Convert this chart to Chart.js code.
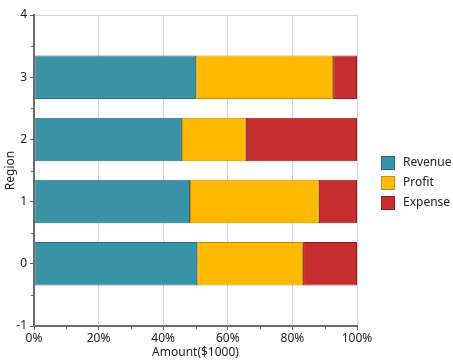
<!DOCTYPE html>
<html>
<head>
<meta charset="utf-8">
<script src="https://cdn.jsdelivr.net/npm/chart.js@4"></script>
<style>
  body { margin: 0; background: #fff; }
</style>
</head>
<body>
<canvas id="chart" width="453" height="364"></canvas>
<script>
// regions on a numeric axis, shares in percent of total
const regions = [0, 1, 2, 3];
const revenue = [50.5, 48.3, 45.8, 50.2];
const profit = [32.8, 39.9, 19.8, 42.4];
const expense = [16.7, 11.8, 34.4, 7.4];
const seriesNames = ['Revenue', 'Profit', 'Expense'];

const fillColors = ['rgb(57,146,166)', 'rgb(255,185,0)', 'rgb(198,45,47)'];
const edgeColors = ['rgb(42,108,122)', 'rgb(196,140,18)', 'rgb(140,32,34)'];
const font = { family: '"Noto Sans", "Open Sans", sans-serif', size: 12 };

const toPoints = (vals) => vals.map((v, i) => ({ x: v, y: regions[i] }));

// small ticks between the labelled ones
const minorTicks = {
  id: 'minorTicks',
  afterDatasetsDraw(chart) {
    const { ctx, scales: { x, y } } = chart;
    ctx.save();
    ctx.strokeStyle = '#666';
    ctx.lineWidth = 1;
    for (let v = 10; v < 100; v += 20) {
      const px = Math.round(x.getPixelForValue(v)) + 0.5;
      ctx.beginPath();
      ctx.moveTo(px, y.bottom);
      ctx.lineTo(px, y.bottom + 3);
      ctx.stroke();
    }
    for (let v = -0.5; v < 4; v += 1) {
      const py = Math.round(y.getPixelForValue(v)) + 0.5;
      ctx.beginPath();
      ctx.moveTo(x.left - 3, py);
      ctx.lineTo(x.left, py);
      ctx.stroke();
    }
    ctx.restore();
  }
};

// legend on the right, vertically centred
const sideLegend = {
  id: 'sideLegend',
  afterDraw(chart) {
    const { ctx } = chart;
    ctx.save();
    ctx.font = font.size + 'px ' + font.family;
    ctx.textBaseline = 'middle';
    chart.data.datasets.forEach((ds, i) => {
      const top = 156 + i * 20;
      ctx.fillStyle = ds.backgroundColor;
      ctx.fillRect(381, top, 14, 14);
      ctx.strokeStyle = ds.borderColor;
      ctx.lineWidth = 1;
      ctx.strokeRect(381.5, top + 0.5, 13, 13);
      ctx.fillStyle = '#222';
      ctx.fillText(ds.label, 403, top + 7);
    });
    ctx.restore();
  }
};

const ctx = document.getElementById('chart').getContext('2d');

new Chart(ctx, {
  type: 'bar',
  data: {
    datasets: [revenue, profit, expense].map((vals, i) => ({
      label: seriesNames[i],
      data: toPoints(vals),
      backgroundColor: fillColors[i],
      borderColor: edgeColors[i],
      borderWidth: 1,
      borderSkipped: false,
      barPercentage: 0.7,
      categoryPercentage: 1,
    })),
  },
  options: {
    indexAxis: 'y',
    responsive: false,
    animation: false,
    layout: { padding: { top: 15, right: 96, left: 0, bottom: 0 } },
    plugins: {
      legend: { display: false },
      tooltip: { enabled: false },
    },
    scales: {
      x: {
        type: 'linear',
        stacked: true,
        min: 0,
        max: 100,
        ticks: {
          stepSize: 20,
          padding: 1,
          color: '#222',
          font: font,
          callback: (v) => v + '%',
        },
        grid: { color: '#d4d4d4', tickColor: '#666', tickLength: 4 },
        border: { color: '#6b6b6b', width: 2 },
        title: { display: true, text: 'Amount($1000)', color: '#222', font: font, padding: { top: 0, bottom: 4 } },
        afterFit: (scale) => { scale.height = 38; },
      },
      y: {
        type: 'linear',
        stacked: true,
        offset: false,
        min: -1,
        max: 4,
        ticks: { stepSize: 1, padding: 3, color: '#222', font: font },
        grid: { color: '#d4d4d4', tickColor: '#666', tickLength: 4, offset: false },
        border: { color: '#6b6b6b', width: 2 },
        title: { display: true, text: 'Region', color: '#222', font: font, padding: { top: 3, bottom: 0 } },
        afterFit: (scale) => { scale.width = 34; },
      },
    },
  },
  plugins: [minorTicks, sideLegend],
});
</script>
</body>
</html>
